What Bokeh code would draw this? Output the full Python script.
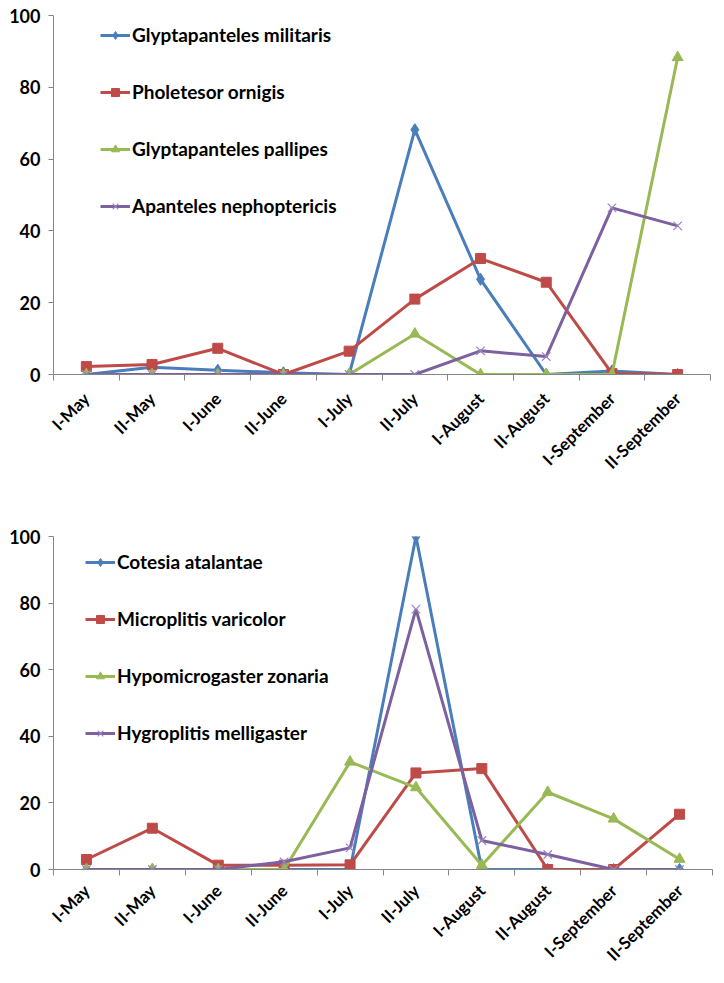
import math
from bokeh.plotting import figure
from bokeh.layouts import column
from bokeh.models import FixedTicker, Range1d
from bokeh.embed import file_html
from bokeh.resources import INLINE

periods = ["I-May", "II-May", "I-June", "II-June", "I-July", "II-July",
           "I-August", "II-August", "I-September", "II-September"]

# Top chart
top_names = ["Glyptapanteles militaris", "Pholetesor ornigis",
             "Glyptapanteles pallipes", "Apanteles nephoptericis"]
glyp_militaris = [0, 2.0, 1.2, 0.5, 0, 68.2, 26.5, 0, 1.0, 0]
pholetesor_ornigis = [2.2, 2.8, 7.3, 0, 6.5, 21.0, 32.3, 25.7, 0.3, 0]
glyp_pallipes = [0, 0, 0, 0, 0, 11.3, 0, 0, 0, 88.3]
apanteles_nephoptericis = [0, 0, 0, 0, 0, 0, 6.6, 5.0, 46.4, 41.4]

# Bottom chart
bottom_names = ["Cotesia atalantae", "Microplitis varicolor",
                "Hypomicrogaster zonaria", "Hygroplitis melligaster"]
cotesia_atalantae = [0, 0, 0, 0, 0, 100, 0, 0, 0, 0]
microplitis_varicolor = [3.0, 12.4, 1.3, 1.3, 1.4, 29.0, 30.3, 0, 0, 16.6]
hypomicrogaster_zonaria = [0, 0, 0, 0, 32.3, 24.6, 1.3, 23.2, 15.2, 3.1]
hygroplitis_melligaster = [0, 0, 0, 2.3, 6.5, 78.2, 8.7, 4.5, 0, 0]

y_ticks = [0, 20, 40, 60, 80, 100]

colors = ["#4A7EBB", "#BE4B48", "#98B954", "#7D60A0"]
markers = ["diamond", "square", "triangle", "x"]
msizes = [12, 10, 11, 12]

FONT = "Lato"
AXIS_COLOR = "#868686"


def make_chart(series, names, width, height, mb_left, mb_right, mb_top, mb_bottom,
               legend_loc, x_standoff):
    p = figure(width=width, height=height, output_backend="svg", toolbar_location=None,
               x_range=Range1d(-0.5, len(periods) - 0.5), y_range=Range1d(0, 100),
               min_border_left=mb_left, min_border_right=mb_right,
               min_border_top=mb_top, min_border_bottom=mb_bottom)
    p.outline_line_color = None
    p.xgrid.visible = False
    p.ygrid.visible = False
    p.background_fill_color = "white"
    p.border_fill_color = "white"

    xs = list(range(len(periods)))
    for vals, name, c, m, s in zip(series, names, colors, markers, msizes):
        p.line(xs, vals, line_color=c, line_width=3, legend_label=name)
        if m == "x":
            p.scatter(xs, vals, marker=m, size=s, line_color="#9A86BB", line_width=1.2,
                      legend_label=name)
        else:
            p.scatter(xs, vals, marker=m, size=s, fill_color=c, line_color=c, legend_label=name)

    # y axis
    ya = p.yaxis[0]
    ya.ticker = FixedTicker(ticks=y_ticks, minor_ticks=[])
    ya.axis_line_color = AXIS_COLOR
    ya.major_tick_line_color = AXIS_COLOR
    ya.major_tick_out = 5
    ya.major_tick_in = 0
    ya.minor_tick_out = 0
    ya.minor_tick_in = 0
    ya.major_label_text_font = FONT
    ya.major_label_text_font_style = "bold"
    ya.major_label_text_font_size = "18px"
    ya.major_label_text_color = "black"
    ya.major_label_standoff = 8

    # x axis: labels at category centres, ticks between categories
    xa = p.xaxis[0]
    xa.ticker = FixedTicker(ticks=xs, minor_ticks=[i - 0.5 for i in range(len(periods) + 1)])
    xa.major_label_overrides = {i: lab for i, lab in enumerate(periods)}
    xa.axis_line_color = AXIS_COLOR
    xa.major_tick_out = 0
    xa.major_tick_in = 0
    xa.minor_tick_out = 6
    xa.minor_tick_in = 0
    xa.minor_tick_line_color = AXIS_COLOR
    xa.major_label_orientation = math.pi / 4
    xa.major_label_text_font = FONT
    xa.major_label_text_font_style = "bold"
    xa.major_label_text_font_size = "17px"
    xa.major_label_text_color = "black"
    xa.major_label_standoff = x_standoff

    lg = p.legend[0]
    lg.location = legend_loc
    lg.border_line_color = None
    lg.background_fill_alpha = 0
    lg.padding = 0
    lg.margin = 0
    lg.spacing = 34
    lg.label_height = 20
    lg.glyph_height = 20
    lg.glyph_width = 30
    lg.label_standoff = 2
    lg.label_text_font = FONT
    lg.label_text_font_style = "bold"
    lg.label_text_font_size = "19px"
    lg.label_text_color = "black"
    return p


p1 = make_chart([glyp_militaris, pholetesor_ornigis, glyp_pallipes, apanteles_nephoptericis],
                top_names, width=720, height=520, mb_left=53, mb_right=10, mb_top=15,
                mb_bottom=146, legend_loc=(47, 157), x_standoff=15)
p2 = make_chart([cotesia_atalantae, microplitis_varicolor, hypomicrogaster_zonaria,
                 hygroplitis_melligaster],
                bottom_names, width=722, height=455, mb_left=53, mb_right=3, mb_top=16,
                mb_bottom=104, legend_loc=(32, 125), x_standoff=12)

layout = column(p1, p2, spacing=0)
open("out.html", "w").write(file_html(layout, INLINE))
